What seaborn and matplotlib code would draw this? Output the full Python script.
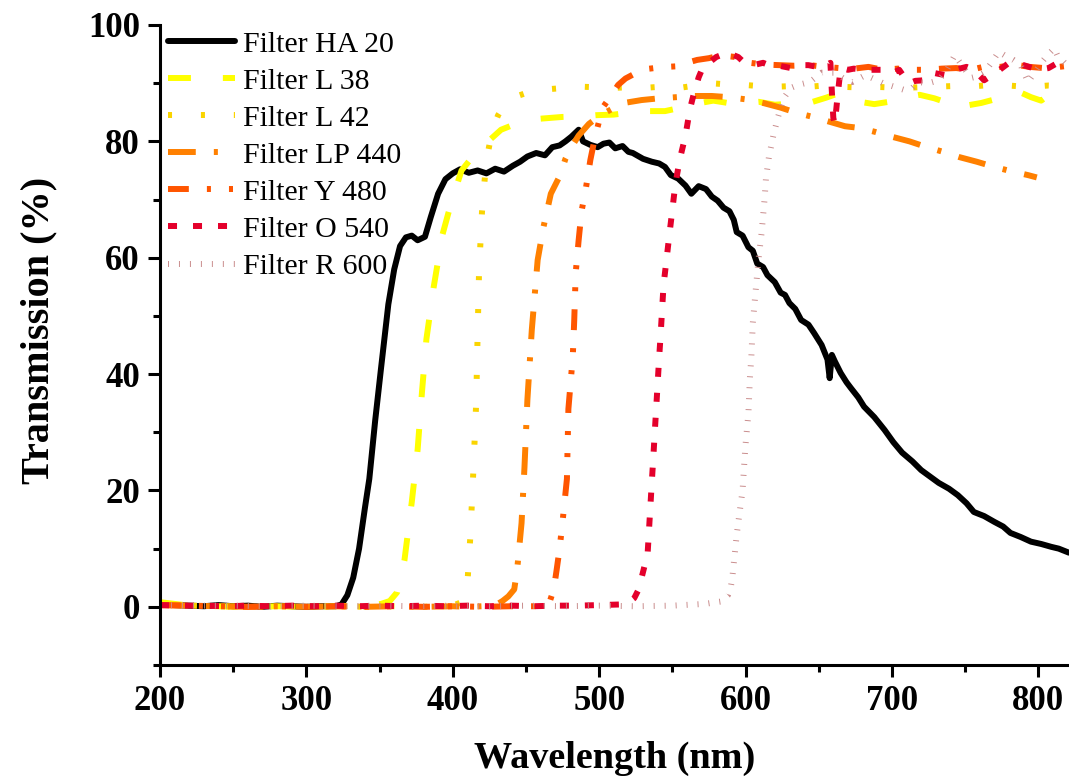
import matplotlib
matplotlib.use("Agg")
import matplotlib.pyplot as plt
from matplotlib.ticker import MultipleLocator
import seaborn as sns
import pandas as pd

# ---------------- data ----------------
ha20_x = [200, 210, 220, 230, 240, 250, 260, 270, 280, 290, 300, 310, 320, 324, 328, 332, 336, 340, 343, 347,
          351, 356, 360, 364, 368, 372, 376, 381, 385, 390, 395, 400, 405, 411, 417, 423, 429, 435, 441, 446,
          451, 457, 463, 468, 473, 477, 481, 486, 489, 494, 499, 503, 507, 511, 516, 520, 523, 530, 536, 541,
          545, 549, 554, 559, 563, 568, 573, 577, 581, 585, 589, 592, 594, 598, 602, 605, 608, 612, 615, 620,
          624, 627, 630, 634, 638, 643, 647, 652, 656, 657.5, 659, 661, 665, 669, 672, 677, 681, 688, 695, 701,
          707, 714, 720, 726, 732, 739, 745, 751, 756, 763, 770, 776, 781, 788, 795, 802, 809, 814, 818, 821]
ha20_y = [0.5, 0.3, 0.2, 0.1, 0.3, 0.1, 0.2, 0.0, 0.2, 0.1, 0.0, 0.1, 0.1, 0.4, 2.0, 5.0, 10.0, 17.0, 22.0, 32.0,
          41.0, 52.0, 58.0, 62.0, 63.5, 63.8, 63.0, 63.6, 67.0, 71.0, 73.5, 74.5, 75.2, 74.6, 75.0, 74.5, 75.3, 74.8, 75.8, 76.5,
          77.4, 78.0, 77.6, 79.0, 79.3, 80.0, 80.8, 82.0, 80.0, 79.4, 79.0, 79.6, 79.8, 78.8, 79.2, 78.2, 78.0, 77.0, 76.5, 76.2,
          75.6, 74.2, 73.6, 72.4, 71.0, 72.3, 71.8, 70.5, 69.8, 68.6, 68.0, 66.5, 64.4, 63.8, 61.8, 61.2, 59.0, 58.4, 57.0, 55.8,
          54.0, 53.6, 52.2, 51.2, 49.3, 48.5, 47.0, 45.0, 42.5, 39.3, 43.3, 42.2, 40.2, 38.6, 37.6, 36.0, 34.4, 32.6, 30.4, 28.3,
          26.5, 25.0, 23.5, 22.4, 21.3, 20.3, 19.2, 17.8, 16.3, 15.6, 14.6, 13.8, 12.7, 12.0, 11.2, 10.8, 10.3, 10.0, 9.6, 9.3]

l38_x = [200, 210, 220, 240, 260, 280, 300, 320, 340, 351, 357, 362, 367, 372, 376, 379, 382, 387, 393, 399,
         406, 414, 422, 433, 443, 455, 465, 475, 488, 498, 510, 523, 533, 545, 556, 567, 578, 588, 598, 609,
         620, 632, 646, 655, 664, 671, 678, 688, 698, 704, 709, 719, 729, 736, 743, 752, 761, 770, 779, 787,
         795, 802, 809, 816, 821]
l38_y = [0.8, 0.5, 0.2, 0.1, 0.0, 0.1, 0.0, 0.1, 0.2, 0.5, 1.0, 2.5, 8.0, 18.0, 27.0, 37.0, 46.0, 55.0, 64.0, 69.5,
         75.0, 77.5, 79.5, 82.0, 83.0, 83.8, 84.0, 84.2, 84.3, 84.5, 84.6, 85.0, 85.2, 85.2, 85.8, 86.5, 87.0, 86.6, 86.6, 86.8,
         86.3, 86.5, 86.8, 87.5, 88.3, 87.5, 86.8, 86.4, 86.8, 87.0, 87.6, 88.0, 87.4, 86.8, 87.4, 86.2, 86.6, 87.2, 88.0, 88.5,
         87.6, 87.0, 88.3, 89.0, 89.6]

l42_x = [200, 220, 240, 260, 280, 300, 320, 340, 360, 380, 400, 406, 410, 412, 414, 416, 417, 418, 420, 422,
         424, 427, 431, 436, 442, 450, 458, 467, 477, 487, 498, 510, 521, 531, 543, 555, 566, 576, 587, 599,
         610, 621, 632, 644, 654, 663, 674, 685, 696, 708, 719, 730, 741, 752, 763, 774, 785, 796, 807, 818, 821]
l42_y = [0.3, 0.2, 0.1, 0.0, 0.1, 0.0, 0.1, 0.0, 0.1, 0.0, 0.2, 0.8, 4.0, 12.0, 23.0, 35.0, 47.0, 58.0, 68.0, 74.0,
         78.0, 82.0, 84.5, 86.5, 87.6, 88.3, 88.8, 89.0, 89.2, 89.4, 89.3, 89.2, 89.3, 89.2, 89.4, 89.2, 89.6, 90.0, 89.8, 89.7,
         89.5, 89.4, 89.5, 89.4, 89.6, 89.4, 89.3, 89.4, 89.3, 89.2, 89.3, 89.4, 89.5, 89.4, 89.6, 89.7, 89.5, 89.4, 89.6, 89.5, 89.6]

lp440_x = [200, 220, 240, 260, 280, 300, 320, 340, 360, 380, 400, 410, 420, 426, 430, 434, 438, 442, 444, 447,
           449, 451, 454, 458, 462, 467, 473, 477, 481, 486, 493, 501, 509, 517, 529, 541, 553, 565, 577, 588,
           601, 612, 624, 635, 646, 657, 668, 678, 689, 700, 712, 724, 735, 746, 758, 770, 781, 793, 799]
lp440_y = [0.3, 0.2, 0.1, 0.0, 0.1, 0.0, 0.1, 0.0, 0.1, 0.0, 0.1, 0.0, 0.1, 0.1, 0.4, 1.0, 1.8, 3.0, 6.4, 14.4,
           24.0, 35.6, 47.6, 59.6, 65.3, 71.0, 74.0, 77.0, 79.0, 81.0, 83.0, 84.5, 85.6, 86.6, 87.1, 87.4, 87.6, 87.8, 87.8, 87.6,
           87.2, 86.6, 85.8, 84.9, 84.2, 83.4, 82.6, 82.3, 81.6, 80.8, 80.0, 79.0, 78.2, 77.3, 76.5, 75.6, 74.9, 74.2, 73.8]

y480_x = [200, 220, 240, 260, 280, 300, 320, 340, 360, 380, 400, 420, 440, 456, 463, 466, 469, 471, 473, 475,
          478, 479, 482, 483, 484, 486, 488, 491, 494, 497, 500, 503, 508, 513, 518, 524, 531, 538, 546, 553,
          560, 567, 575, 583, 593, 603, 613, 623, 633, 644, 654, 664, 674, 684, 694, 704, 714, 724, 734, 744,
          754, 764, 774, 784, 794, 804, 814, 821]
y480_y = [0.3, 0.2, 0.1, 0.0, 0.1, 0.0, 0.1, 0.0, 0.1, 0.0, 0.1, 0.0, 0.1, 0.1, 0.3, 0.7, 3.0, 6.4, 10.0, 14.6,
          22.0, 34.0, 43.0, 49.3, 57.4, 63.0, 68.0, 72.0, 76.8, 80.5, 83.5, 86.0, 87.8, 89.7, 90.8, 91.6, 92.4, 92.6, 92.8, 92.9,
          93.5, 94.0, 94.3, 94.8, 94.5, 93.5, 93.2, 93.1, 93.0, 93.1, 92.8, 92.6, 92.5, 92.8, 92.3, 92.5, 92.3, 92.3, 92.5, 92.6,
          92.3, 92.9, 92.8, 93.2, 92.8, 92.6, 92.8, 93.0]

o540_x = [200, 215, 230, 245, 260, 275, 290, 305, 320, 335, 350, 365, 380, 395, 410, 425, 440, 455, 470, 485,
          500, 514, 520, 524, 527, 529, 531, 533, 535, 536, 537, 538, 539, 540, 541, 542, 543, 544, 546, 548,
          550, 552, 555, 559, 562, 565, 568, 571, 575, 580, 585, 589, 592, 595, 598, 603, 607, 612, 617, 623,
          631, 638, 643, 649, 653, 656, 658, 659, 660, 661, 663, 665, 670, 674, 681, 688, 696, 701, 705, 708,
          712, 716, 722, 728, 736, 743, 751, 756, 763, 771, 780, 790, 800, 807, 814, 818, 821]
o540_y = [0.3, 0.2, 0.2, 0.1, 0.2, 0.1, 0.2, 0.1, 0.2, 0.1, 0.2, 0.1, 0.2, 0.1, 0.2, 0.1, 0.2, 0.1, 0.2, 0.2,
          0.3, 0.4, 0.7, 1.5, 3.0, 5.0, 7.0, 8.6, 17.2, 21.5, 25.6, 30.0, 34.2, 38.5, 42.8, 46.7, 51.0, 55.3, 59.6, 64.0,
          68.2, 72.5, 76.8, 81.0, 85.5, 88.5, 91.0, 92.8, 93.5, 94.5, 95.0, 95.2, 94.8, 94.5, 93.8, 93.5, 93.2, 93.5, 93.0, 93.0,
          92.6, 93.1, 93.1, 92.8, 92.8, 93.2, 93.5, 88.5, 84.0, 83.0, 88.0, 92.6, 92.3, 92.5, 92.3, 92.3, 92.3, 91.8, 92.3, 91.2,
          90.0, 90.4, 90.5, 91.8, 91.4, 92.3, 92.8, 92.3, 90.5, 91.8, 93.5, 93.1, 92.3, 92.6, 93.6, 93.1, 92.8]

r600_x = [200, 225, 250, 275, 300, 325, 350, 375, 400, 425, 450, 475, 500, 525, 550, 572, 583, 588, 590, 591,
          592, 594, 596, 598, 599, 600, 602, 603, 604, 605, 607, 609, 611, 613, 614, 616, 619, 622, 626, 631,
          636, 644, 652, 661, 667, 673, 682, 694, 709, 714, 718, 725, 732, 738, 743, 750, 754, 759, 763, 768,
          773, 777, 783, 788, 793, 798, 802, 807, 811, 813, 818, 821]
r600_y = [0.3, 0.2, 0.2, 0.1, 0.2, 0.1, 0.2, 0.1, 0.2, 0.1, 0.2, 0.1, 0.2, 0.1, 0.2, 0.5, 0.9, 2.0, 3.5, 5.0,
          7.5, 12.4, 16.3, 20.0, 24.0, 27.8, 33.3, 39.3, 43.0, 48.8, 54.5, 60.0, 64.3, 70.0, 73.7, 77.3, 81.0, 84.0, 87.4, 89.2,
          89.7, 90.2, 91.8, 91.8, 90.8, 90.2, 91.4, 90.0, 88.8, 89.2, 90.2, 90.0, 90.5, 92.5, 94.8, 92.3, 90.9, 91.2, 91.8, 93.5,
          95.4, 94.8, 94.0, 93.1, 90.2, 92.0, 93.5, 95.0, 96.0, 94.8, 93.5, 94.0]

series_names = ["Filter HA 20", "Filter L 38", "Filter L 42", "Filter LP 440",
                "Filter Y 480", "Filter O 540", "Filter R 600"]
series_x = [ha20_x, l38_x, l42_x, lp440_x, y480_x, o540_x, r600_x]
series_y = [ha20_y, l38_y, l42_y, lp440_y, y480_y, o540_y, r600_y]

x_ticks = [200, 300, 400, 500, 600, 700, 800]
y_ticks = [0, 20, 40, 60, 80, 100]

# ---------------- styles ----------------
colors = ["#000000", "#FFFF00", "#FAD400", "#FF8000", "#FF5500", "#E4002B", "#C98C8C"]
styles = [
    "-",
    (0, (16.5, 23.0)),
    (0, (2.9, 20.8)),
    (0, (20.0, 13.0, 2.9, 13.0)),
    (0, (15.0, 13.0, 2.9, 13.0, 2.9, 13.0)),
    (0, (6.5, 11.5)),
    (0, (0.7, 7.2)),
]

sns.set_theme(style="ticks")
plt.rcParams["font.family"] = ["Liberation Serif", "DejaVu Serif"]
plt.rcParams["lines.scale_dashes"] = False
plt.rcParams["text.color"] = "black"
plt.rcParams["axes.labelcolor"] = "black"
plt.rcParams["xtick.color"] = "black"
plt.rcParams["ytick.color"] = "black"

fig = plt.figure(figsize=(10.69, 7.78), dpi=100)
ax = fig.add_axes([160 / 1069, 1 - 665 / 778, (1069 - 160) / 1069, (665 - 25) / 778])

for name, xs, ys, c, ls in zip(series_names, series_x, series_y, colors, styles):
    df = pd.DataFrame({"x": xs, "y": ys})
    sns.lineplot(data=df, x="x", y="y", ax=ax, color=c, linewidth=4.3,
                 linestyle=ls, label=name, estimator=None, sort=False)

ax.set_xlim(200, 821)
ax.set_ylim(-10, 100)
ax.set_xticks(x_ticks)
ax.set_yticks(y_ticks)
ax.xaxis.set_minor_locator(MultipleLocator(50))
ax.yaxis.set_minor_locator(MultipleLocator(10))
sns.despine(ax=ax)
for s in ["left", "bottom"]:
    ax.spines[s].set_linewidth(2.2)
    ax.spines[s].set_color("black")
ax.tick_params(which="major", direction="out", length=8.5, width=2.2, color="black",
               labelcolor="black", pad=6)
ax.tick_params(which="minor", direction="out", length=5, width=2.2, color="black")
for lab in ax.get_xticklabels() + ax.get_yticklabels():
    lab.set_fontsize(25)
    lab.set_fontweight("bold")
ax.set_xlabel("Wavelength (nm)", fontsize=27.5, fontweight="bold", labelpad=16.5, color="black")
ax.set_ylabel("Transmission (%)", fontsize=29, fontweight="bold", color="black")
ax.yaxis.set_label_coords(-0.113, 0.523)

leg = ax.legend(loc="upper left", bbox_to_anchor=(0.009, 0.991), frameon=False,
                fontsize=21.5, handlelength=2.25, handletextpad=0.25,
                labelspacing=0.34, borderpad=0, borderaxespad=0)
for t in leg.get_texts():
    t.set_color("black")

fig.savefig("out.png", dpi=100)
